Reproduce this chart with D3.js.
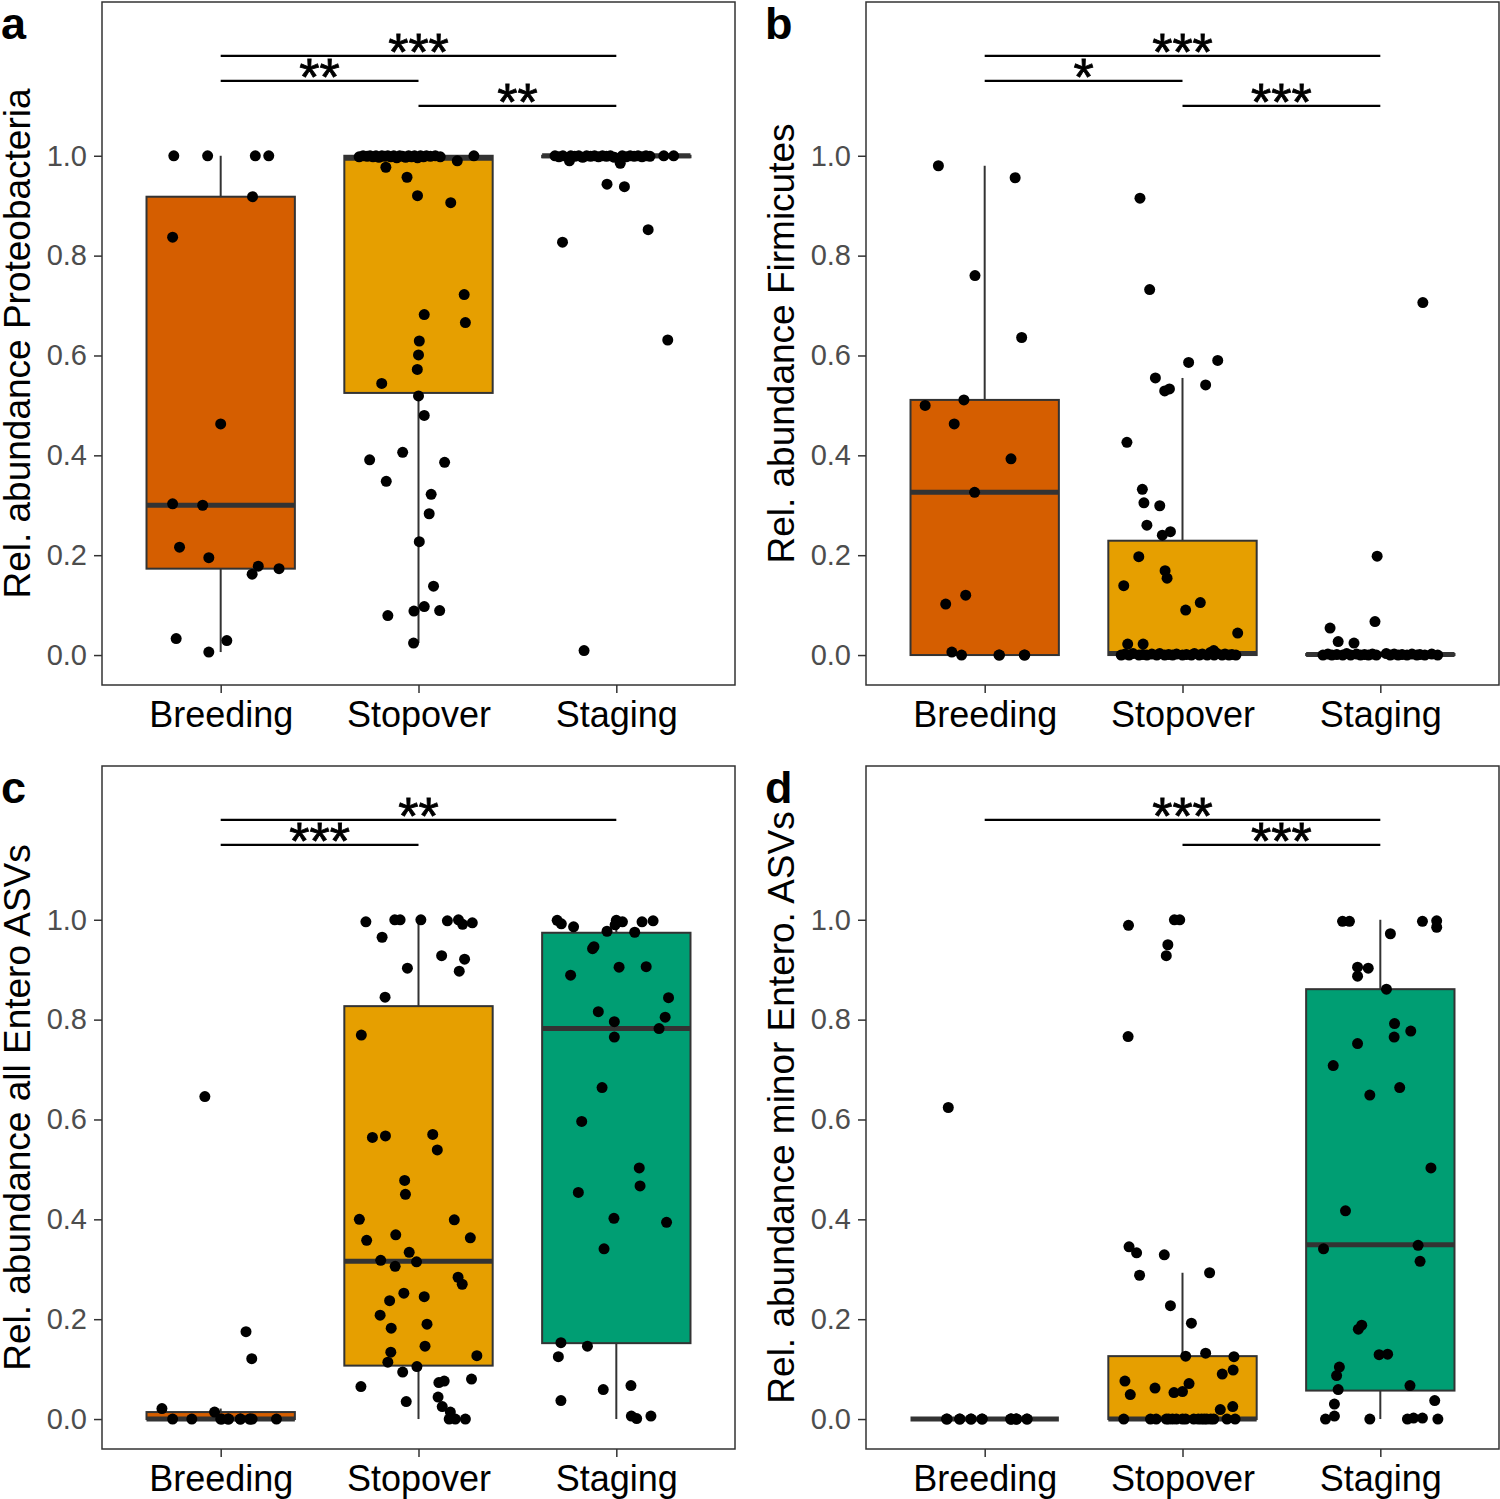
<!DOCTYPE html>
<html><head><meta charset="utf-8">
<script src="https://cdn.jsdelivr.net/npm/d3@7"></script>
<style>
body{margin:0;background:#fff}
svg{display:block}
text{font-family:"Liberation Sans",Arial,Helvetica,sans-serif}
</style>
</head><body>
<svg id="chart" width="1500" height="1499"></svg>
<script>
// ---------------- data ----------------
const categories = ["Breeding", "Stopover", "Staging"];
const fillColors = ["#D55E00", "#E69F00", "#009E73"];
const yTicks = [0, 0.2, 0.4, 0.6, 0.8, 1.0];
const panelLabels = ["a", "b", "c", "d"];
const yTitles = ["Rel. abundance Proteobacteria", "Rel. abundance Firmicutes",
                 "Rel. abundance all Entero ASVs", "Rel. abundance minor Entero. ASVs"];

// points: [jitter offset (in category units), value]
const aBreeding = [[-0.237,1.0],[-0.066,1.0],[0.175,1.0],[0.243,1.0],[0.161,0.918],[-0.243,0.837],[0.0,0.463],
  [-0.243,0.303],[-0.091,0.300],[-0.208,0.216],[-0.06,0.195],[0.19,0.178],[0.159,0.162],[0.295,0.173],
  [-0.225,0.033],[-0.06,0.006],[0.031,0.029]];
const aStopover = [[-0.30,0.998],[-0.28,1.0],[-0.26,0.999],[-0.245,1.0],[-0.23,0.998],[-0.215,1.0],[-0.20,0.997],
  [-0.185,1.0],[-0.17,0.999],[-0.155,1.0],[-0.14,0.998],[-0.125,1.0],[-0.11,0.996],[-0.095,1.0],[-0.08,0.999],
  [-0.065,0.997],[-0.05,1.0],[-0.035,0.998],[-0.02,1.0],[-0.005,0.996],[0.01,1.0],[0.025,0.998],[0.04,1.0],
  [0.06,0.999],[0.085,1.0],[0.11,0.998],[0.196,0.99],[0.28,1.0],
  [-0.165,0.977],[-0.058,0.957],[-0.005,0.92],[0.163,0.906],[0.231,0.722],[0.237,0.666],[0.029,0.682],
  [0.004,0.629],[0.0,0.601],[-0.006,0.572],[-0.186,0.544],[0.0,0.519],[0.029,0.480],[-0.247,0.391],
  [-0.08,0.406],[0.132,0.386],[-0.163,0.348],[0.064,0.322],[0.054,0.283],[0.004,0.227],[0.076,0.138],
  [-0.155,0.079],[-0.023,0.088],[0.029,0.097],[0.107,0.089],[-0.025,0.024]];
const aStaging = [[-0.31,1.0],[-0.29,0.998],[-0.27,1.0],[-0.237,0.99],[-0.23,1.0],[-0.21,0.999],[-0.19,1.0],
  [-0.17,0.997],[-0.15,1.0],[-0.13,0.999],[-0.11,1.0],[-0.09,0.998],[-0.07,1.0],[-0.05,0.999],[-0.03,1.0],
  [-0.01,0.997],[0.02,0.985],[0.03,1.0],[0.05,0.998],[0.07,1.0],[0.09,0.999],[0.11,1.0],[0.13,0.998],
  [0.15,1.0],[0.17,0.999],[0.24,1.0],[0.29,1.0],
  [-0.047,0.943],[0.041,0.938],[0.161,0.852],[-0.272,0.827],[0.26,0.631],[-0.163,0.009]];

const bBreeding = [[-0.234,0.980],[0.154,0.956],[-0.049,0.760],[0.187,0.636],[-0.105,0.511],[-0.301,0.500],
  [-0.154,0.463],[0.133,0.393],[-0.051,0.326],[-0.096,0.120],[-0.197,0.102],[-0.166,0.006],[-0.117,0.0],
  [0.072,0.0],[0.203,0.0],[0.075,0.0],[0.2,0.0]];
const bStopover = [[-0.215,0.915],[-0.166,0.732],[0.031,0.586],[0.178,0.590],[-0.137,0.555],[-0.09,0.529],
  [-0.066,0.533],[0.117,0.541],[-0.281,0.426],[-0.203,0.332],[-0.195,0.305],[-0.115,0.299],[-0.18,0.260],
  [-0.102,0.240],[-0.061,0.247],[-0.221,0.197],[-0.088,0.169],[-0.078,0.154],[-0.297,0.139],[0.09,0.105],
  [0.016,0.090],[0.279,0.044],[-0.277,0.022],[-0.199,0.022],[0.158,0.009],
  [-0.31,0.0],[-0.29,0.002],[-0.27,0.0],[-0.25,0.003],[-0.22,0.0],[-0.2,0.001],[-0.18,0.0],[-0.155,0.002],
  [-0.13,0.0],[-0.115,0.003],[-0.09,0.0],[-0.07,0.001],[-0.05,0.0],[-0.03,0.002],[0.0,0.0],[0.02,0.001],
  [0.045,0.0],[0.06,0.003],[0.085,0.0],[0.1,0.002],[0.125,0.0],[0.14,0.005],[0.16,0.0],[0.175,0.003],
  [0.2,0.0],[0.215,0.002],[0.235,0.0],[0.25,0.001],[0.27,0.0]];
const bStaging = [[0.215,0.706],[-0.016,0.198],[-0.027,0.067],[-0.254,0.054],[-0.213,0.027],[-0.133,0.024],
  [-0.29,0.0],[-0.265,0.002],[-0.245,0.0],[-0.22,0.001],[-0.19,0.0],[-0.17,0.003],[-0.15,0.0],[-0.12,0.002],
  [-0.1,0.0],[-0.08,0.001],[-0.06,0.0],[-0.04,0.002],[-0.02,0.0],[0.03,0.003],[0.05,0.0],[0.07,0.002],
  [0.09,0.0],[0.11,0.001],[0.135,0.0],[0.16,0.002],[0.185,0.0],[0.2,0.001],[0.225,0.0],[0.26,0.002],[0.29,0.0]];

const cBreeding = [[-0.08,0.646],[0.128,0.175],[0.157,0.121],[-0.297,0.021],[-0.031,0.014],[-0.243,0.0],
  [-0.146,0.0],[0.0,0.0],[0.037,0.0],[0.099,0.0],[0.146,0.0],[0.159,0.0],[0.282,0.0],[0.04,0.0],[0.1,0.0],
  [0.15,0.0],[0.005,0.0]];
const cStopover = [[-0.266,0.996],[-0.12,1.0],[-0.093,1.0],[0.012,1.0],[0.146,0.998],[0.202,1.0],[0.223,0.991],
  [0.272,0.994],[-0.184,0.965],[0.117,0.928],[0.233,0.921],[-0.056,0.903],[0.206,0.897],[-0.169,0.845],
  [-0.289,0.769],[-0.233,0.564],[-0.167,0.567],[0.072,0.570],[0.095,0.539],[-0.07,0.478],[-0.066,0.450],
  [-0.299,0.400],[0.181,0.399],[-0.262,0.358],[-0.115,0.369],[0.262,0.363],[-0.047,0.334],[-0.191,0.318],
  [-0.118,0.306],[-0.01,0.315],[0.2,0.284],[0.221,0.270],[-0.074,0.252],[0.029,0.245],[-0.146,0.237],
  [-0.194,0.208],[0.043,0.190],[-0.138,0.182],[0.033,0.146],[-0.14,0.134],[0.295,0.127],[-0.155,0.114],
  [-0.008,0.105],[-0.08,0.094],[-0.291,0.065],[0.268,0.080],[0.103,0.073],[0.13,0.076],[-0.062,0.035],
  [0.099,0.044],[0.12,0.025],[0.161,0.014],[0.155,0.0],[0.186,0.0],[0.237,0.0]];
const cStaging = [[-0.299,0.999],[-0.278,0.992],[-0.216,0.986],[-0.047,0.977],[0.0,0.999],[-0.006,0.99],
  [0.031,0.996],[0.13,0.996],[0.186,0.998],[0.093,0.975],[-0.113,0.946],[-0.12,0.942],[0.014,0.905],
  [0.151,0.906],[-0.231,0.889],[0.264,0.844],[-0.091,0.816],[-0.01,0.796],[0.247,0.805],[0.216,0.782],
  [-0.01,0.765],[-0.072,0.664],[-0.175,0.596],[0.116,0.503],[0.12,0.467],[-0.192,0.454],[-0.012,0.402],
  [0.254,0.394],[-0.062,0.341],[-0.28,0.153],[-0.146,0.146],[-0.293,0.125],[-0.066,0.059],[0.074,0.067],
  [-0.28,0.037],[0.076,0.006],[0.103,0.001],[0.175,0.006]];

const dBreeding = [[-0.184,0.624],[-0.193,0.0],[-0.127,0.0],[-0.07,0.0],[-0.014,0.0],[0.133,0.0],[0.16,0.0],
  [0.215,0.0],[-0.125,0.0],[-0.068,0.0],[0.135,0.0],[0.158,0.0],[0.213,0.0],[-0.19,0.0],[-0.012,0.0],
  [0.162,0.0],[0.131,0.0]];
const dStopover = [[-0.273,0.989],[-0.041,1.0],[-0.014,1.0],[-0.074,0.95],[-0.082,0.928],[-0.275,0.766],
  [-0.27,0.345],[-0.232,0.333],[-0.092,0.329],[-0.217,0.288],[0.137,0.293],[-0.061,0.227],[0.045,0.192],
  [0.016,0.126],[0.117,0.132],[0.26,0.125],[0.256,0.098],[0.201,0.090],[-0.291,0.076],[-0.264,0.049],
  [-0.139,0.062],[-0.043,0.053],[0.0,0.055],[0.033,0.071],[0.191,0.019],[0.254,0.025],
  [-0.297,0.0],[-0.162,0.0],[-0.133,0.0],[-0.082,0.0],[-0.051,0.0],[-0.031,0.0],[0.016,0.0],[0.057,0.0],
  [0.096,0.0],[0.123,0.0],[0.143,0.0],[0.158,0.0],[0.225,0.0],[0.266,0.0],[-0.07,0.0],[0.08,0.0],[0.11,0.0],[0.0,0.0]];
const dStaging = [[-0.191,0.997],[-0.156,0.997],[0.213,0.997],[0.285,0.998],[0.285,0.985],[0.051,0.972],
  [-0.115,0.905],[-0.061,0.903],[-0.115,0.887],[0.031,0.861],[0.072,0.792],[0.07,0.765],[0.154,0.777],
  [-0.115,0.752],[-0.238,0.708],[0.098,0.664],[-0.053,0.649],[0.256,0.503],[-0.176,0.417],[-0.287,0.341],
  [0.191,0.348],[0.201,0.316],[-0.094,0.188],[-0.111,0.180],[-0.006,0.129],[0.037,0.130],[-0.207,0.104],
  [-0.221,0.087],[0.15,0.067],[-0.213,0.059],[0.275,0.037],[-0.232,0.030],[-0.232,0.006],[-0.277,0.0],
  [-0.053,0.0],[0.137,0.0],[0.168,0.002],[0.213,0.002],[0.291,0.0]];

// box stats: [lower whisker, Q1, median, Q3, upper whisker]
const aBoxes = [[0.006,0.173,0.300,0.918,1.0],[0.024,0.525,0.995,1.0,1.0],[0.99,0.997,1.0,1.0,1.0]];
const bBoxes = [[0.0,0.0,0.326,0.511,0.98],[0.0,0.0,0.003,0.229,0.555],[0.0,0.0,0.001,0.002,0.006]];
const cBoxes = [[0.0,0.0,0.0,0.014,0.021],[0.0,0.107,0.316,0.827,1.0],[0.0,0.152,0.782,0.974,1.0]];
const dBoxes = [[0.0,0.0,0.0,0.0,0.0],[0.0,0.0,0.0,0.126,0.293],[0.0,0.057,0.349,0.861,1.0]];

// significance brackets: [from index, to index, y value, label]
const aSig = [[0,2,1.20,"***"],[0,1,1.15,"**"],[1,2,1.10,"**"]];
const bSig = [[0,2,1.20,"***"],[0,1,1.15,"*"],[1,2,1.10,"***"]];
const cSig = [[0,2,1.20,"**"],[0,1,1.15,"***"]];
const dSig = [[0,2,1.20,"***"],[1,2,1.15,"***"]];

// ---------------- drawing ----------------
const svg = d3.select("#chart");
const panels = [
  {groups:[aBreeding,aStopover,aStaging], boxes:aBoxes, sig:aSig, x0:0, y0:0},
  {groups:[bBreeding,bStopover,bStaging], boxes:bBoxes, sig:bSig, x0:764, y0:0},
  {groups:[cBreeding,cStopover,cStaging], boxes:cBoxes, sig:cSig, x0:0, y0:764},
  {groups:[dBreeding,dStopover,dStaging], boxes:dBoxes, sig:dSig, x0:764, y0:764}
];
const dark = "#333333";

panels.forEach((p, pi) => {
  const left = p.x0 + 102, right = p.x0 + 735, top = p.y0 + 2, bottom = p.y0 + 685;
  const y = d3.scaleLinear().domain([-0.06, 1.308]).range([bottom, top]);
  const x = d3.scalePoint().domain(categories).range([left, right]).padding(0.6);
  const step = x.step();
  const g = svg.append("g");

  // boxes
  p.boxes.forEach((b, i) => {
    const cx = x(categories[i]), hw = step * 0.75 / 2;
    const [lo, q1, med, q3, hi] = b;
    g.append("line").attr("x1", cx).attr("x2", cx).attr("y1", y(hi)).attr("y2", y(q3))
      .attr("stroke", dark).attr("stroke-width", 2);
    g.append("line").attr("x1", cx).attr("x2", cx).attr("y1", y(q1)).attr("y2", y(lo))
      .attr("stroke", dark).attr("stroke-width", 2);
    g.append("rect").attr("x", cx - hw).attr("width", hw * 2)
      .attr("y", y(q3)).attr("height", Math.max(0, y(q1) - y(q3)))
      .attr("fill", fillColors[i]).attr("stroke", dark).attr("stroke-width", 2);
    g.append("line").attr("x1", cx - hw).attr("x2", cx + hw).attr("y1", y(med)).attr("y2", y(med))
      .attr("stroke", dark).attr("stroke-width", 5);
  });

  // jittered points
  p.groups.forEach((pts, i) => {
    g.selectAll(null).data(pts).enter().append("circle")
      .attr("cx", d => x(categories[i]) + d[0] * step)
      .attr("cy", d => y(d[1]))
      .attr("r", 5.5).attr("fill", "#000");
  });

  // significance
  p.sig.forEach(s => {
    const x1 = x(categories[s[0]]), x2 = x(categories[s[1]]), yy = y(s[2]);
    g.append("line").attr("x1", x1).attr("x2", x2).attr("y1", yy).attr("y2", yy)
      .attr("stroke", "#000").attr("stroke-width", 2.2);
    g.append("text").attr("x", (x1 + x2) / 2).attr("y", yy + 14)
      .attr("text-anchor", "middle").attr("font-size", 52).attr("fill", "#000")
      .attr("stroke", "#000").attr("stroke-width", 0.8).text(s[3]);
  });

  // border
  g.append("rect").attr("x", left).attr("y", top).attr("width", right - left).attr("height", bottom - top)
    .attr("fill", "none").attr("stroke", dark).attr("stroke-width", 1.5);

  // axes
  const ya = g.append("g").attr("transform", `translate(${left},0)`)
    .call(d3.axisLeft(y).tickValues(yTicks).tickFormat(d3.format(".1f")).tickSize(8).tickPadding(7));
  ya.select(".domain").remove();
  ya.selectAll(".tick line").attr("stroke", dark).attr("stroke-width", 1.5);
  ya.selectAll(".tick text").attr("font-size", 29).attr("fill", "#4D4D4D")
    .attr("font-family", "Liberation Sans, Arial, sans-serif");

  const xa = g.append("g").attr("transform", `translate(0,${bottom})`)
    .call(d3.axisBottom(x).tickSize(8).tickPadding(8));
  xa.select(".domain").remove();
  xa.selectAll(".tick line").attr("stroke", dark).attr("stroke-width", 1.5);
  xa.selectAll(".tick text").attr("font-size", 36).attr("fill", "#000")
    .attr("font-family", "Liberation Sans, Arial, sans-serif");

  // y title
  g.append("text").attr("transform", `translate(${p.x0 + 30},${(top + bottom) / 2}) rotate(-90)`)
    .attr("text-anchor", "middle").attr("font-size", 37).attr("fill", "#000").text(yTitles[pi]);

  // panel label
  g.append("text").attr("x", p.x0 + 1).attr("y", p.y0 + 39)
    .attr("font-size", 45).attr("font-weight", "bold").attr("fill", "#000").text(panelLabels[pi]);
});
</script>
</body></html>
